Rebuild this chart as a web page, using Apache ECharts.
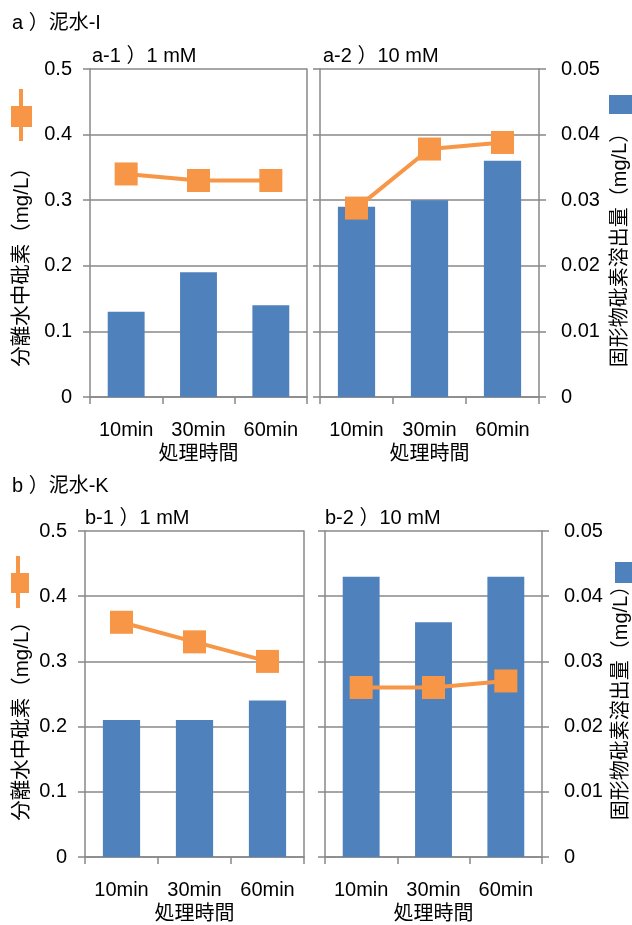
<!DOCTYPE html>
<html>
<head>
<meta charset="utf-8">
<script src="https://cdn.jsdelivr.net/npm/echarts@6/dist/echarts.min.js"></script>
<style>
html,body{margin:0;padding:0;background:#fff;}
#chart{width:632px;height:925px;}
</style>
</head>
<body>
<div id="chart"></div>
<script>
// ---- data ----
const categories = ['10min', '30min', '60min'];
const a1Line = [0.34, 0.33, 0.33];
const a1Bar  = [0.013, 0.019, 0.014];
const a2Line = [0.288, 0.378, 0.388];
const a2Bar  = [0.029, 0.030, 0.036];
const b1Line = [0.36, 0.33, 0.30];
const b1Bar  = [0.021, 0.021, 0.024];
const b2Line = [0.26, 0.26, 0.27];
const b2Bar  = [0.043, 0.036, 0.043];
const leftTicks = [0, 0.5, 0.1];    // min, max, interval
const rightTicks = [0, 0.05, 0.01];
const xName = '処理時間';
const leftName = '分離水中砒素（mg/L）';
const rightName = '固形物砒素溶出量（mg/L）';
const panelTitles = ['a ）泥水-I', 'b ）泥水-K'];
const subTitles = ['a-1 ）1 mM', 'a-2 ）10 mM', 'b-1 ）1 mM', 'b-2 ）10 mM'];

// ---- styles ----
const FONT = '"Liberation Sans", Arial, "Noto Sans CJK JP", sans-serif';
const GRAY = '#888888';
const LW = 1.5;
const ORANGE = '#f79646';
const BLUE = '#4f81bd';
const FS = 20;

const chart = echarts.init(document.getElementById('chart'), null, {renderer: 'canvas'});

const grids = [
  {left: 90,  top: 69,  width: 217, height: 328},
  {left: 320, top: 69,  width: 219, height: 328},
  {left: 85,  top: 531, width: 219, height: 329},
  {left: 325, top: 531, width: 217, height: 329}
];

const xAxes = grids.map((g, i) => ({
  type: 'category', gridIndex: i, data: categories,
  name: xName, nameLocation: 'middle', nameGap: 47,
  nameTextStyle: {fontFamily: FONT, fontSize: FS, color: '#000'},
  axisLine: {lineStyle: {color: GRAY, width: LW}},
  axisTick: {show: true, length: 7, lineStyle: {color: GRAY, width: LW}},
  axisLabel: {fontFamily: FONT, fontSize: FS, color: '#000', margin: 23}
}));

const yAxes = [];
grids.forEach((g, i) => {
  const leftPanel = (i % 2 === 0);
  // line axis (left side)
  yAxes.push({
    type: 'value', gridIndex: i, position: 'left',
    min: leftTicks[0], max: leftTicks[1], interval: leftTicks[2],
    axisLine: {show: true, lineStyle: {color: GRAY, width: LW}},
    axisTick: {show: true, length: 7, lineStyle: {color: GRAY, width: LW}},
    axisLabel: {show: leftPanel, fontFamily: FONT, fontSize: FS, color: '#000', margin: 18},
    splitLine: {show: true, lineStyle: {color: GRAY, width: LW}}
  });
  // bar axis (right side)
  yAxes.push({
    type: 'value', gridIndex: i, position: 'right',
    min: rightTicks[0], max: rightTicks[1], interval: rightTicks[2],
    axisLine: {show: true, lineStyle: {color: GRAY, width: LW}},
    axisTick: {show: !leftPanel, length: 7, lineStyle: {color: GRAY, width: LW}},
    axisLabel: {show: !leftPanel, fontFamily: FONT, fontSize: FS, color: '#000', margin: 22},
    splitLine: {show: false}
  });
});

const lineData = [a1Line, a2Line, b1Line, b2Line];
const barData = [a1Bar, a2Bar, b1Bar, b2Bar];
const series = [];
grids.forEach((g, i) => {
  series.push({
    type: 'bar', xAxisIndex: i, yAxisIndex: i * 2 + 1, data: barData[i],
    barWidth: '51%', itemStyle: {color: BLUE}, z: 2, silent: true
  });
  series.push({
    type: 'line', xAxisIndex: i, yAxisIndex: i * 2, data: lineData[i],
    symbol: 'rect', symbolSize: 23, lineStyle: {color: ORANGE, width: 4},
    itemStyle: {color: ORANGE}, z: 5, silent: true, animation: false
  });
});

const titleStyle = {fontFamily: FONT, fontSize: FS, fontWeight: 'normal', color: '#000'};
const titles = [
  {text: panelTitles[0], left: 12, top: 13},
  {text: subTitles[0], left: 92, top: 46},
  {text: subTitles[1], left: 323, top: 46},
  {text: panelTitles[1], left: 12, top: 476},
  {text: subTitles[2], left: 85, top: 508},
  {text: subTitles[3], left: 325, top: 508}
].map(t => Object.assign({padding: 0, textStyle: titleStyle}, t));

function vText(txt, x, y, fs) {
  return {type: 'text', x: x, y: y, rotation: Math.PI / 2,
    style: {text: txt, fontFamily: FONT, fontSize: fs, fill: '#000', align: 'center', verticalAlign: 'middle'}};
}
const graphic = [
  vText(leftName, 22, 262, 20.5),
  vText(rightName, 620, 245, 20),
  vText(leftName, 22, 716, 20.5),
  vText(rightName, 621, 698, 20),
  // legend keys
  {type: 'rect', shape: {x: 19, y: 89, width: 4, height: 52}, style: {fill: ORANGE}},
  {type: 'rect', shape: {x: 11, y: 106, width: 21, height: 21}, style: {fill: ORANGE}},
  {type: 'rect', shape: {x: 16, y: 556, width: 4, height: 52}, style: {fill: ORANGE}},
  {type: 'rect', shape: {x: 11, y: 573, width: 18, height: 20}, style: {fill: ORANGE}},
  {type: 'rect', shape: {x: 609, y: 95, width: 30, height: 19}, style: {fill: BLUE}},
  {type: 'rect', shape: {x: 615, y: 562, width: 25, height: 21}, style: {fill: BLUE}}
];

chart.setOption({
  animation: false,
  backgroundColor: '#fff',
  title: titles,
  grid: grids,
  xAxis: xAxes,
  yAxis: yAxes,
  series: series,
  graphic: graphic
});
</script>
</body>
</html>
